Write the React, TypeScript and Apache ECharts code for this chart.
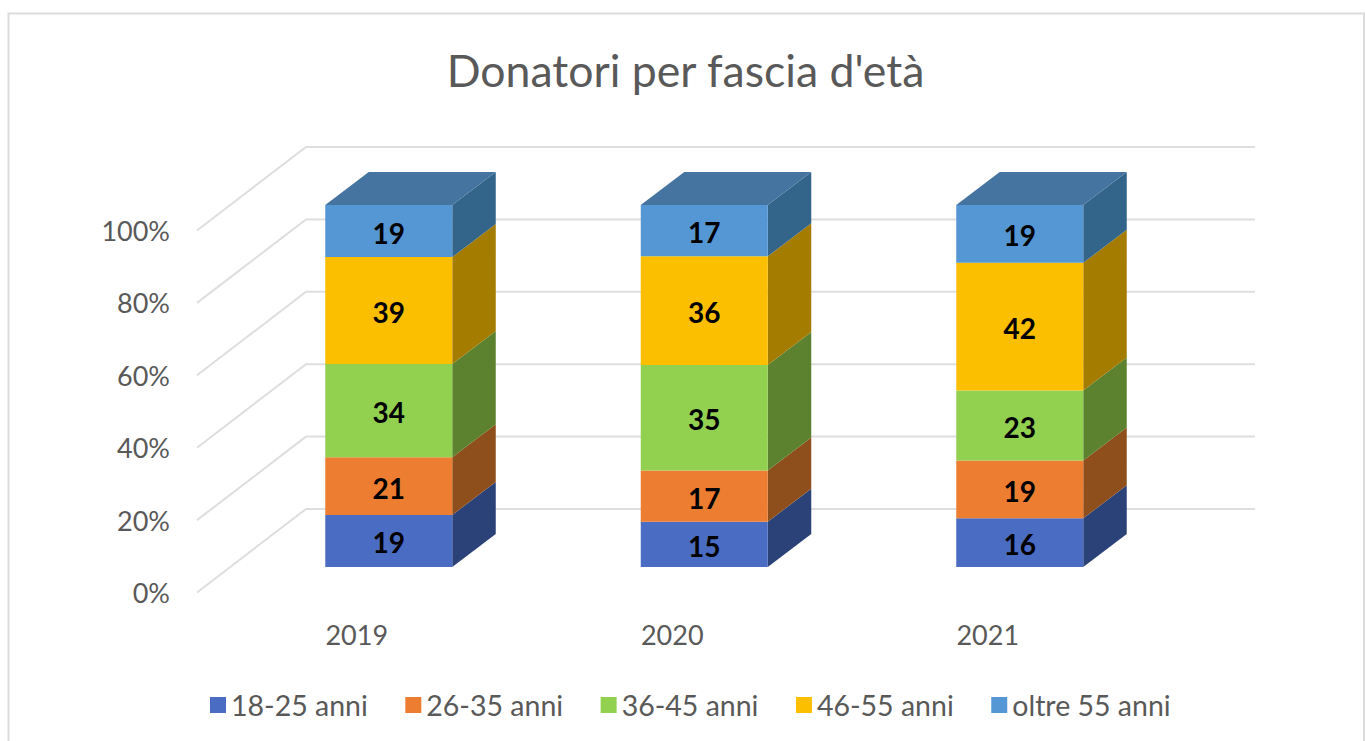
import React, { useEffect, useRef } from "react";
import * as echarts from "echarts";

const years = ["2019", "2020", "2021"];
const bands = ["18-25 anni", "26-35 anni", "36-45 anni", "46-55 anni", "oltre 55 anni"];
const v1825 = [19, 15, 16];
const v2635 = [21, 17, 19];
const v3645 = [34, 35, 23];
const v4655 = [39, 36, 42];
const vOltre = [19, 17, 19];
const bandValues = [v1825, v2635, v3645, v4655, vOltre];
const frontColors = ["#4a6dc3", "#ed7d31", "#92d050", "#fcbf00", "#5596d4"];
const sideColors = ["#2b4279", "#8e4f1c", "#5c822f", "#a37c00", "#33648a"];
const topColor = "#44749f";
const axisTicks = [0, 20, 40, 60, 80, 100];

const FONT = "Lato, 'Noto Sans', sans-serif";
const DX = 43.5;
const DY = 33;
const BAR_W = 127;
const BAR_SHIFT_X = 32;
const BAR_SHIFT_Y = -25.5;

function bandData(b: number) {
  return years.map((_, i) => {
    const total = bandValues.reduce((s, arr) => s + arr[i], 0);
    const before = bandValues.slice(0, b).reduce((s, arr) => s + arr[i], 0);
    return [i, (before / total) * 100, ((before + bandValues[b][i]) / total) * 100, bandValues[b][i]];
  });
}

function renderSegment(b: number) {
  return (_params: any, api: any) => {
    const cat = api.value(0);
    const p0 = api.coord([cat, api.value(1)]);
    const p1 = api.coord([cat, api.value(2)]);
    const x0 = p0[0] + BAR_SHIFT_X - BAR_W / 2;
    const x1 = x0 + BAR_W;
    const yb = p0[1] + BAR_SHIFT_Y;
    const yt = p1[1] + BAR_SHIFT_Y;
    const children: any[] = [
      {
        type: "polygon",
        shape: { points: [[x1, yb], [x1 + DX, yb - DY], [x1 + DX, yt - DY], [x1, yt]] },
        style: { fill: sideColors[b] },
      },
      {
        type: "rect",
        shape: { x: x0, y: yt, width: BAR_W, height: yb - yt },
        style: { fill: frontColors[b] },
      },
      {
        type: "text",
        x: (x0 + x1) / 2,
        y: (yb + yt) / 2 + 1.5,
        style: {
          text: String(api.value(3)),
          fill: "#000000",
          font: `bold 28px ${FONT}`,
          align: "center",
          verticalAlign: "middle",
        },
      },
    ];
    if (b === bandValues.length - 1) {
      children.push({
        type: "polygon",
        shape: { points: [[x0, yt], [x0 + DX, yt - DY], [x1 + DX, yt - DY], [x1, yt]] },
        style: { fill: topColor },
      });
    }
    return { type: "group", children };
  };
}

function renderWall(params: any, api: any) {
  const cs = params.coordSys;
  const y = api.coord([0, api.value(0)])[1];
  return {
    type: "polyline",
    shape: {
      points: [
        [cs.x - 2, y],
        [cs.x + 107, y - 83.5],
        [cs.x + cs.width + 109.5, y - 83.5],
      ],
    },
    style: { stroke: "#dedede", lineWidth: 2, fill: "none" },
  };
}

export default function App() {
  const ref = useRef<HTMLDivElement>(null);
  useEffect(() => {
    const chart = echarts.init(ref.current!, null, { renderer: "svg" });
    chart.setOption({
      animation: false,
      backgroundColor: "#ffffff",
      title: {
        text: "Donatori per fascia d'età",
        left: 680.5,
        top: 42,
        textAlign: "center",
        textStyle: { color: "#595959", fontFamily: FONT, fontSize: 44.6, fontWeight: "normal" },
      },
      grid: { left: 199, top: 230.5, width: 946.5, height: 362 },
      xAxis: {
        type: "category",
        data: years,
        axisLine: { show: false },
        axisTick: { show: false },
        axisLabel: { color: "#595959", fontFamily: FONT, fontSize: 27, margin: 28 },
      },
      yAxis: {
        type: "value",
        min: 0,
        max: 100,
        interval: 20,
        axisLine: { show: false },
        axisTick: { show: false },
        splitLine: { show: false },
        axisLabel: {
          color: "#595959",
          fontFamily: FONT,
          fontSize: 27,
          margin: 29,
          formatter: (v: number) => `${v}%`,
        },
      },
      legend: {
        data: bands,
        left: 210,
        top: 690.5,
        padding: 0,
        itemWidth: 16,
        itemHeight: 16,
        itemGap: 37.5,
        itemTextGap: 10,
        icon: "rect",
        textStyle: { color: "#595959", fontFamily: FONT, fontSize: 28.5 },
      },
      graphic: [
        {
          type: "polyline",
          shape: { points: [[8.5, 741], [8.5, 13.5], [1364, 13.5], [1364, 741]] },
          style: { stroke: "#dcdcdc", lineWidth: 2, fill: "none" },
          silent: true,
        },
      ],
      series: [
        {
          type: "custom",
          name: "griglia",
          data: axisTicks.map((t) => [t]),
          encode: { y: 0 },
          renderItem: renderWall,
          silent: true,
          clip: false,
          z: 1,
        },
        ...bands.map((name, b) => ({
          type: "custom",
          name,
          data: bandData(b),
          encode: { x: 0, y: [1, 2] },
          itemStyle: { color: frontColors[b] },
          renderItem: renderSegment(b),
          clip: false,
          z: 2 + b,
        })),
      ],
    });
    return () => chart.dispose();
  }, []);
  return <div ref={ref} style={{ position: "fixed", left: 0, top: 0, width: 1365, height: 741 }} />;
}
